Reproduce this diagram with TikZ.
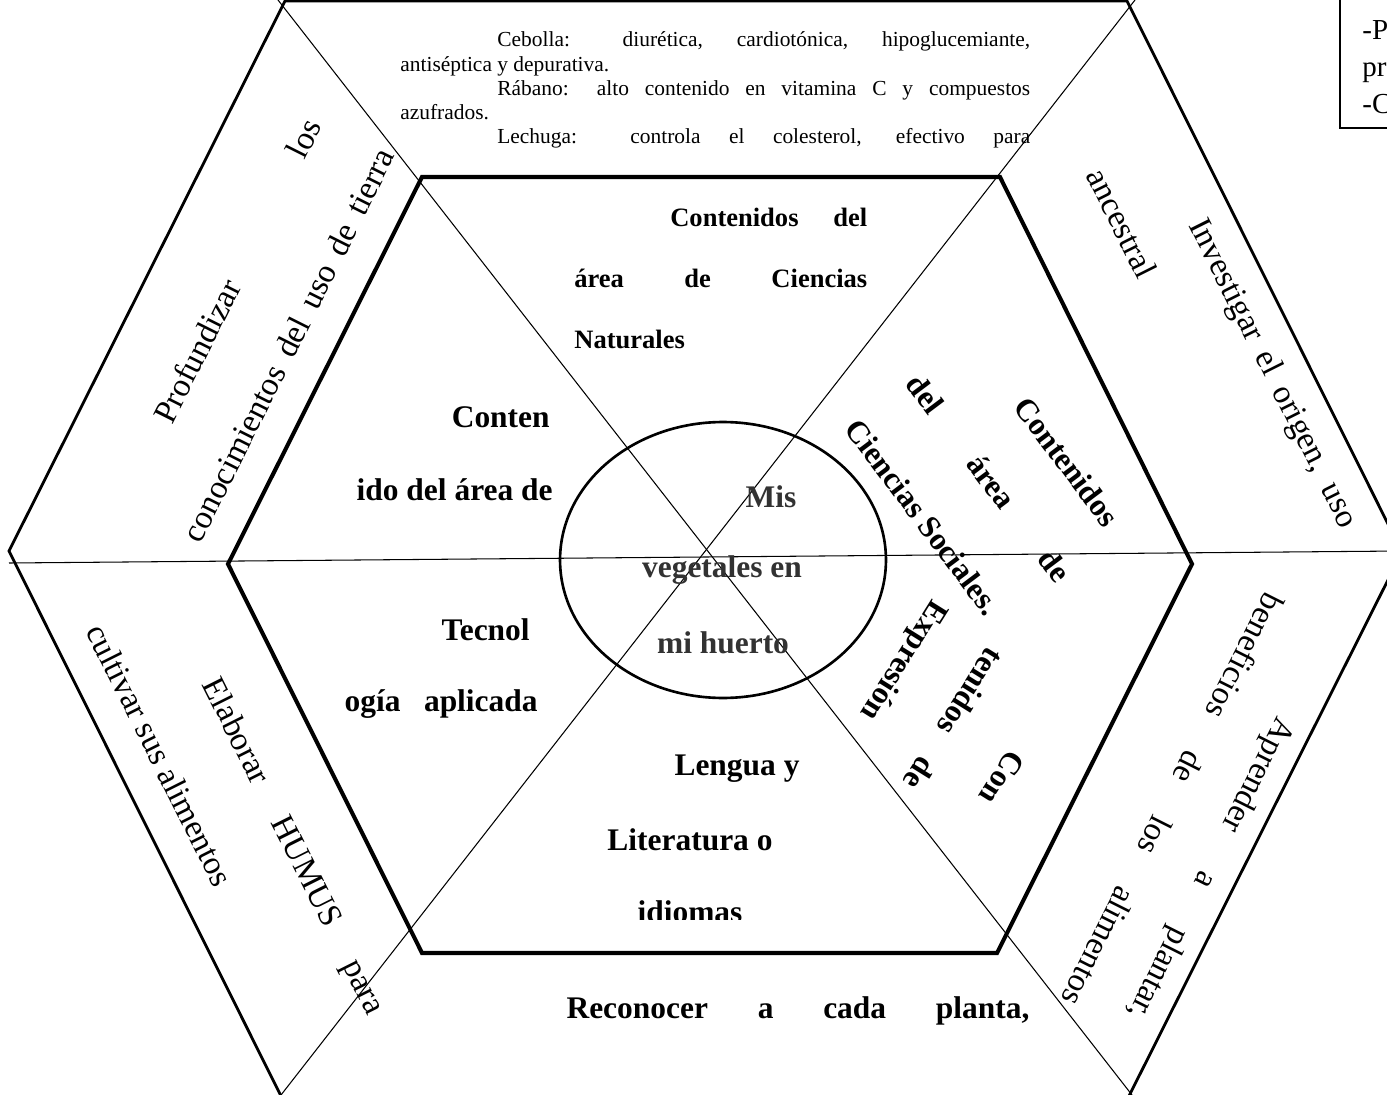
\documentclass[tikz,border=0pt]{standalone}
\usepackage{fontspec}
\setmainfont{Liberation Serif}
\definecolor{hubgray}{RGB}{50,50,50}
\newcommand{\jline}[2]{\parbox{#1}{\parfillskip=0pt\relax #2}}

\begin{document}
\begin{tikzpicture}[x=0.02cm, y=-0.02cm,
    spoke/.style={line width=0.6pt},
    rim/.style={line width=1.6pt, line join=miter},
    core/.style={line width=2.3pt, line join=miter},
    lbl/.style={inner sep=0pt, font=\fontsize{18.8}{22}\selectfont},
    sub/.style={inner sep=0pt, font=\fontsize{17.9}{21}\selectfont\bfseries},
    note/.style={inner sep=0pt, font=\fontsize{12.2}{13.7}\selectfont}]
    \useasboundingbox (0,0) rectangle (1387,1095);

    % Spokes
    \draw[spoke] (9,563) -- (1402,551);
    \draw[spoke] (278,0) -- (1132,1095);
    \draw[spoke] (1135,0) -- (281,1095);

    % Outer hexagon
    \draw[rim] (281,1096) -- (9,551) -- (285,1) -- (1127,1) -- (1402,552) -- (1129,1096);

    % Inner hexagon
    \draw[core] (422,177) -- (1000,177) -- (1192,564) -- (997,953) -- (422,953) -- (228,564) -- cycle;

    % Hub
    \draw[line width=1.5pt] (723,560) ellipse [x radius=3.26cm, y radius=2.76cm];
    \node[sub, text=hubgray, anchor=base] (hub1) at (771,507) {Mis};
    \node[sub, text=hubgray, anchor=base] (hub2) at (722,577) {vegetales en};
    \node[sub, text=hubgray, anchor=base] (hub3) at (723,653) {mi huerto};

    % Top note
    \node[note, anchor=base west] (notes) at (400,47) {\parbox[t]{12.6cm}{\parindent=1.94cm
        Cebolla: diurética, cardiotónica, hipoglucemiante,\linebreak antiséptica y depurativa.\par
        Rábano: alto contenido en vitamina C y compuestos\linebreak azufrados.\par
        {\parfillskip=0pt Lechuga: controla el colesterol, efectivo para\par}}};

    % Box at the corner
    \draw[line width=0.9pt] (1340,-10) rectangle (1420,128);
    \node[anchor=base west, inner sep=0pt, font=\fontsize{16.5}{19}\selectfont] (box1) at (1362,40) {-P};
    \node[anchor=base west, inner sep=0pt, font=\fontsize{16.5}{19}\selectfont] (box2) at (1362,77) {pr};
    \node[anchor=base west, inner sep=0pt, font=\fontsize{16.5}{19}\selectfont] (box3) at (1362,114) {-C};

    % Outer sectors
    \node[lbl, rotate=63.4] (ul1) at (237,271) {\jline{6.7cm}{Profundizar los}};
    \node[lbl, rotate=63.4] (ul2) at (288,345) {\jline{8.7cm}{conocimientos del uso de tierra}};
    \node[lbl, rotate=-63.4] (ur1) at (1272,374) {\jline{6.82cm}{Investigar el origen, uso}};
    \node[lbl, rotate=-63.4] (ur2) at (1122,223) {ancestral};
    \node[lbl, rotate=-63.4] (ll1) at (292,847) {\jline{7.42cm}{Elaborar HUMUS para}};
    \node[lbl, rotate=-63.4] (ll2) at (160,755) {cultivar sus alimentos};
    \node[lbl, rotate=243.4] (lr1) at (1210,868) {\jline{6.68cm}{Aprender a plantar,}};
    \node[lbl, rotate=243.4] (lr2) at (1173,800) {\jline{9.14cm}{beneficios de los alimentos}};
    \node[sub] (bottom) at (798,1011) {\jline{9.26cm}{Reconocer a cada planta,}};

    % Inner sectors
    \node[anchor=base west, inner sep=0pt, font=\fontsize{15.1}{35}\selectfont\bfseries] (nat) at (574,226)
        {\parbox[t]{5.86cm}{\parindent=1.92cm Contenidos del\linebreak área de Ciencias\linebreak Naturales}};
    \node[sub, anchor=base east] (tec1) at (550,427) {Conten};
    \node[sub, anchor=base east] (tec2) at (553,500) {ido del área de};
    \node[sub, anchor=base east] (tec3) at (530,640) {Tecnol};
    \node[sub, anchor=base east] (tec4) at (538,712) {\jline{3.86cm}{ogía aplicada}};
    \node[sub, rotate=-53] (soc1) at (1067,462) {Contenidos};
    \node[sub, rotate=-53] (soc2) at (989,478) {\jline{5.02cm}{del área de}};
    \node[sub, rotate=-53] (soc3) at (923,517) {Ciencias Sociales.};
    \node[sub, rotate=238] (exp1) at (1002,778) {Con};
    \node[sub, rotate=238] (exp2) at (954,719) {\jline{3.2cm}{tenidos de}};
    \node[sub, rotate=238] (exp3) at (903,660) {Expresión};
    \node[sub, anchor=base] (len1) at (737,775) {Lengua y};
    \node[sub, anchor=base] (len2) at (690,850) {Literatura o};
    \begin{scope}
        \clip (600,870) rectangle (800,919);
        \node[sub, anchor=base] (len3) at (690,922) {idiomas};
    \end{scope}
\end{tikzpicture}
\end{document}
